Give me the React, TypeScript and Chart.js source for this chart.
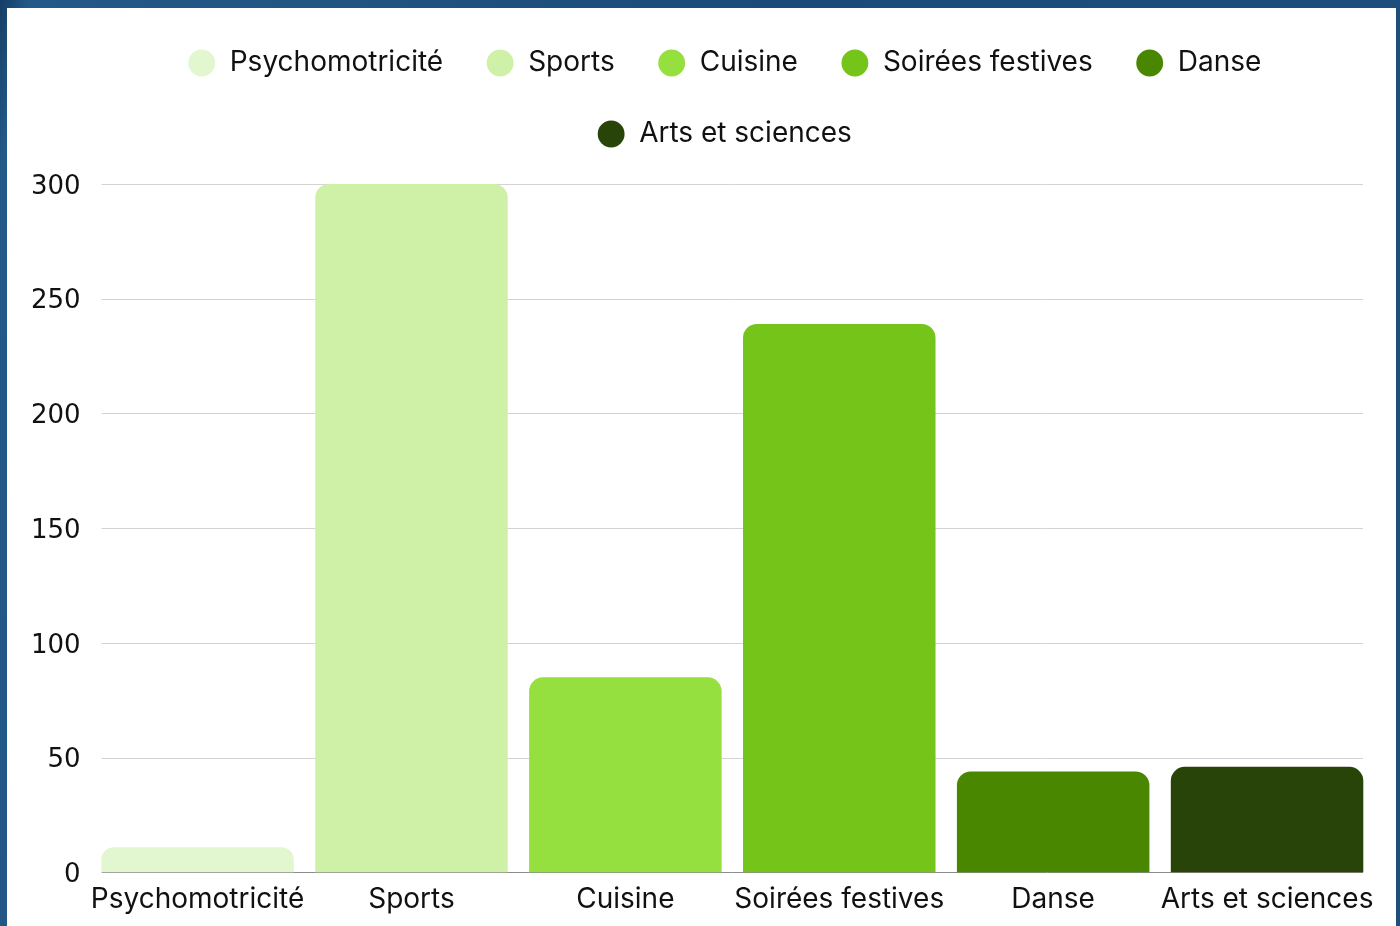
import React, { useEffect, useRef } from "react";
import { Chart, registerables } from "chart.js";

Chart.register(...registerables);

const categories = [
  "Psychomotricité",
  "Sports",
  "Cuisine",
  "Soirées festives",
  "Danse",
  "Arts et sciences",
];
const values = [11, 300, 85, 239, 44, 46];
const colors = ["#e2f7cf", "#cff0a7", "#95df3f", "#75c419", "#4a8700", "#284408"];
const yMax = 300;
const yStep = 50;

const LABEL_FONT = "Inter, 'Open Sans', sans-serif";
const TICK_FONT = "'DejaVu Sans', sans-serif";

const legendMargin = {
  id: "legendMargin",
  beforeInit(chart: any) {
    const orig = chart.legend.fit;
    chart.legend.fit = function () {
      orig.bind(chart.legend)();
      this.height += 26;
    };
  },
  afterLayout(chart: any) {
    const lg = chart.legend;
    if (lg) {
      lg.left += 27;
      lg.right += 27;
    }
  },
};

const insetGrid = {
  id: "insetGrid",
  beforeDatasetsDraw(chart: any) {
    const { ctx, chartArea, scales } = chart;
    const y = scales.y;
    const inset = 11;
    const left = chartArea.left + inset;
    const right = chartArea.right - inset;
    ctx.save();
    y.ticks.forEach((t: any) => {
      const py = Math.round(y.getPixelForValue(t.value)) + 0.5;
      ctx.beginPath();
      ctx.lineWidth = 1;
      ctx.strokeStyle = t.value === 0 ? "#8c8c8c" : "#d3d3d3";
      ctx.moveTo(left, py);
      ctx.lineTo(right, py);
      ctx.stroke();
    });
    ctx.restore();
  },
};

export default function App() {
  const ref = useRef<HTMLCanvasElement | null>(null);

  useEffect(() => {
    if (!ref.current) return;
    const chart = new Chart(ref.current, {
      type: "bar",
      data: {
        labels: categories,
        datasets: [
          {
            label: "Activités",
            data: values,
            backgroundColor: colors,
            borderWidth: 0,
            borderRadius: 14,
            borderSkipped: "start",
            barPercentage: 0.9,
            categoryPercentage: 1.0,
          },
        ],
      },
      options: {
        animation: false,
        responsive: true,
        maintainAspectRatio: false,
        layout: { padding: { left: 14, right: 22, top: 0, bottom: 0 } },
        plugins: {
          tooltip: { enabled: false },
          legend: {
            position: "top",
            onClick: () => {},
            labels: {
              usePointStyle: true,
              boxHeight: 19,
              padding: 43,
              color: "#111",
              font: { family: LABEL_FONT, size: 28 },
              generateLabels: () =>
                categories.map((c, i) => ({
                  text: c,
                  fillStyle: colors[i],
                  strokeStyle: colors[i],
                  lineWidth: 0,
                  pointStyle: "circle",
                  hidden: false,
                  index: i,
                  datasetIndex: 0,
                  fontColor: "#111",
                })),
            },
          },
        },
        scales: {
          x: {
            grid: { display: false, drawTicks: false },
            border: { display: false },
            ticks: {
              color: "#111",
              padding: 10,
              maxRotation: 0,
              autoSkip: false,
              font: { family: LABEL_FONT, size: 28 },
            },
          },
          y: {
            min: 0,
            max: yMax,
            grid: { display: false, drawTicks: false },
            border: { display: false },
            ticks: {
              stepSize: yStep,
              color: "#111",
              padding: 10,
              labelOffset: 3,
              font: { family: TICK_FONT, size: 26 },
            },
          },
        },
      },
      plugins: [legendMargin, insetGrid],
    });
    return () => chart.destroy();
  }, []);

  return (
    <div
      style={{
        position: "fixed",
        inset: 0,
        background:
          "linear-gradient(100deg, #153e66 0%, #245a88 2%, #1b4b78 50%, #1e4f7c 100%)",
        overflow: "hidden",
      }}
    >
      <div
        style={{
          position: "absolute",
          left: 7,
          top: 8,
          width: 1389,
          height: 960,
          background: "#ffffff",
        }}
      />
      <div style={{ position: "absolute", left: 7, top: 6, width: 1389, height: 920 }}>
        <canvas ref={ref} />
      </div>
    </div>
  );
}
